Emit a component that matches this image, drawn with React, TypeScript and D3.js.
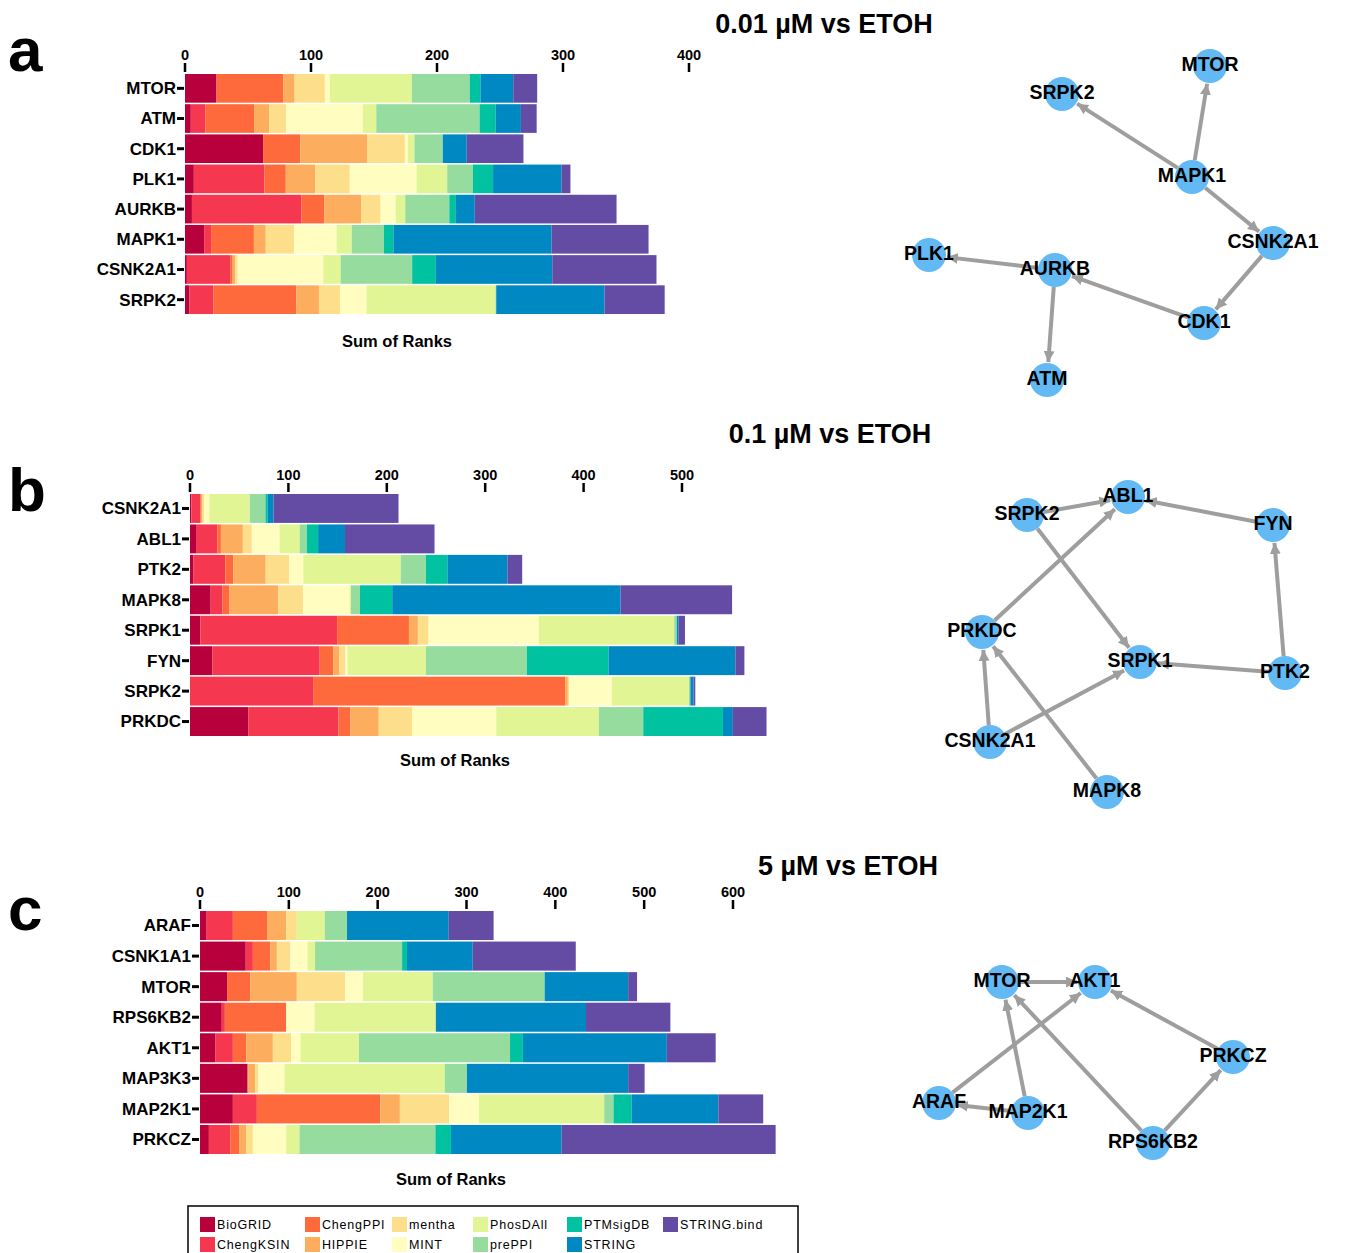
import React from "react";
import * as d3 from "d3";

// data sources, in stacking order
const sources = ["BioGRID", "ChengKSIN", "ChengPPI", "HIPPIE", "mentha", "MINT", "PhosDAll", "prePPI", "PTMsigDB", "STRING", "STRING.bind"];
const sourceColors = ["#B8003C", "#F5384F", "#FF6A3C", "#FDAD5E", "#FDDF8B", "#FFFDBF", "#E2F595", "#97DC9F", "#00C2A0", "#0088C2", "#644CA5"];

// panel a: 0.01 uM vs ETOH
const kinasesA = ["MTOR", "ATM", "CDK1", "PLK1", "AURKB", "MAPK1", "CSNK2A1", "SRPK2"];
const ranksA = [
  [25, 0, 53, 9, 24, 4, 65, 46, 8.5, 26, 19],
  [4.6, 11.6, 38.6, 12, 13.4, 61, 10.6, 82, 12.8, 20, 12.5],
  [62, 0, 29.5, 53, 30, 2.4, 5.2, 22.5, 0, 19, 45],
  [7, 56, 17, 23.4, 27.4, 53, 24.3, 20.4, 16, 54.4, 7],
  [5.5, 87, 18.2, 29, 15.5, 12, 7.6, 35, 5.2, 15, 112.5],
  [15.2, 5.5, 34, 9.4, 22.5, 33.7, 12, 25.5, 7.6, 125.5, 77],
  [1.5, 34.3, 2, 2, 2, 68, 13.7, 56.8, 18.8, 92.4, 82.7],
  [3.6, 19, 65.7, 18, 17, 20.7, 102.4, 0.6, 0, 86, 47.7],
];
const ticksA = [0, 100, 200, 300, 400];

// panel b: 0.1 uM vs ETOH
const kinasesB = ["CSNK2A1", "ABL1", "PTK2", "MAPK8", "SRPK1", "FYN", "SRPK2", "PRKDC"];
const ranksB = [
  [1.4, 9.1, 1.4, 0, 2.3, 5.5, 41, 16, 2.3, 5.9, 127],
  [6.8, 21, 3.6, 22.3, 9.1, 28.2, 20.5, 7.3, 11.4, 27.3, 91],
  [3.6, 32.3, 8.2, 32.8, 23.7, 14.6, 99, 25.5, 21.9, 61, 15],
  [21, 11.8, 7.3, 49.7, 25, 47.4, 1.4, 9.1, 32.8, 232, 113.4],
  [10.5, 139, 73, 9.1, 10.9, 112, 137.6, 2.7, 0, 1.8, 6.4],
  [22.8, 109, 13.7, 6.4, 5.9, 2.3, 79.7, 102.5, 83, 129, 9.1],
  [0, 125.7, 255.6, 2.7, 1.4, 43.3, 78.4, 1.4, 0, 3.2, 1.8],
  [59.2, 91.6, 12.3, 28.7, 34.2, 85.2, 104.3, 45.1, 81.1, 10, 34.2],
];
const ticksB = [0, 100, 200, 300, 400, 500];

// panel c: 5 uM vs ETOH
const kinasesC = ["ARAF", "CSNK1A1", "MTOR", "RPS6KB2", "AKT1", "MAP3K3", "MAP2K1", "PRKCZ"];
const ranksC = [
  [7.5, 29.5, 38.5, 21.5, 12, 0, 31.5, 25, 0, 114.5, 50.5],
  [51.5, 8, 19.5, 7.5, 15, 19.5, 8.5, 98, 5.5, 74, 116],
  [30.5, 0, 26, 52.5, 54.5, 20, 78.5, 126, 0, 94, 10],
  [24.5, 3.5, 69, 0, 0, 32, 136.5, 0, 0, 169, 95],
  [17.5, 19.5, 15, 30, 20.5, 10.5, 66, 170, 14.5, 162, 55],
  [53.5, 0, 1, 7.5, 3.5, 29.5, 180.5, 25, 0, 181.5, 18.5],
  [37, 27, 139, 22, 55.5, 33.5, 141, 10.5, 20.5, 97.5, 50.5],
  [10, 24, 10.5, 7.5, 7.5, 37.5, 15, 153, 17.5, 124.5, 241],
];
const ticksC = [0, 100, 200, 300, 400, 500, 600];

// networks: node layout (local units) and directed edges
const netNodesA = ["MTOR", "SRPK2", "MAPK1", "CSNK2A1", "PLK1", "AURKB", "CDK1", "ATM"];
const netPosA = [[310, 26], [162, 54], [292, 137], [373, 203], [29, 215], [155, 230], [304, 283], [147, 340]];
const netEdgesA = [["MAPK1", "SRPK2"], ["MAPK1", "MTOR"], ["MAPK1", "CSNK2A1"], ["CSNK2A1", "CDK1"], ["CDK1", "AURKB"], ["AURKB", "PLK1"], ["AURKB", "ATM"]];

const netNodesB = ["ABL1", "SRPK2", "FYN", "PRKDC", "SRPK1", "PTK2", "CSNK2A1", "MAPK8"];
const netPosB = [[228, 37], [127, 55], [373, 65], [82, 172], [240, 202], [385, 213], [90, 282], [207, 332]];
const netEdgesB = [["SRPK2", "ABL1"], ["FYN", "ABL1"], ["PRKDC", "ABL1"], ["SRPK2", "SRPK1"], ["PTK2", "SRPK1"], ["PTK2", "FYN"], ["CSNK2A1", "PRKDC"], ["CSNK2A1", "SRPK1"], ["MAPK8", "PRKDC"]];

const netNodesC = ["MTOR", "AKT1", "PRKCZ", "ARAF", "MAP2K1", "RPS6KB2"];
const netPosC = [[102, 42], [195, 42], [333, 117], [39, 163], [128, 173], [253, 203]];
const netEdgesC = [["MTOR", "AKT1"], ["PRKCZ", "AKT1"], ["ARAF", "AKT1"], ["MAP2K1", "MTOR"], ["RPS6KB2", "MTOR"], ["RPS6KB2", "PRKCZ"], ["MAP2K1", "ARAF"]];

const FONT = "'Liberation Sans', Arial, Helvetica, sans-serif";

function BarPanel({ kinases, ranks, ticks, xRange, yRange, letter, letterY, title, titleX, titleY, labelX, labelY }) {
  const table = kinases.map((k, i) => {
    const row: any = { kinase: k };
    sources.forEach((s, j) => (row[s] = ranks[i][j]));
    return row;
  });
  const series = d3.stack().keys(sources)(table);
  const x = d3.scaleLinear().domain([0, ticks[ticks.length - 1]]).range(xRange);
  const y = d3.scaleBand().domain(kinases).range(yRange).paddingInner(0.05);
  const top = yRange[0];
  const color = d3.scaleOrdinal<string, string>().domain(sources).range(sourceColors);
  return (
    <g>
      <text x={8} y={letterY} fontFamily={FONT} fontWeight="bold" fontSize={62}>{letter}</text>
      <text x={titleX} y={titleY} fontFamily={FONT} fontWeight="bold" fontSize={27} textAnchor="middle">{title}</text>
      {series.map((s) => (
        <g key={s.key} fill={color(s.key)}>
          {s.map((d, i) => (
            <rect key={i} x={x(d[0])} y={y(kinases[i])} width={Math.max(0, x(d[1]) - x(d[0]))} height={y.bandwidth()} />
          ))}
        </g>
      ))}
      {ticks.map((t) => (
        <g key={t}>
          <line x1={x(t)} x2={x(t)} y1={top - 11} y2={top - 2} stroke="#000" strokeWidth={2.5} />
          <text x={x(t)} y={top - 14} fontFamily={FONT} fontWeight="bold" fontSize={14.5} textAnchor="middle">{t}</text>
        </g>
      ))}
      {kinases.map((k) => (
        <g key={k}>
          <line x1={xRange[0] - 8} x2={xRange[0] - 1} y1={(y(k) as number) + y.bandwidth() / 2} y2={(y(k) as number) + y.bandwidth() / 2} stroke="#000" strokeWidth={3} />
          <text x={xRange[0] - 9} y={(y(k) as number) + y.bandwidth() / 2} dy="0.35em" fontFamily={FONT} fontWeight="bold" fontSize={17} textAnchor="end">{k}</text>
        </g>
      ))}
      <text x={labelX} y={labelY} fontFamily={FONT} fontWeight="bold" fontSize={16.5} textAnchor="middle">Sum of Ranks</text>
    </g>
  );
}

function Network({ nodes, pos, edges, origin, id }) {
  const x = d3.scaleLinear().domain([0, 400]).range([origin[0], origin[0] + 400]);
  const y = d3.scaleLinear().domain([0, 400]).range([origin[1], origin[1] + 400]);
  const idx = new Map(nodes.map((n, i) => [n, i]));
  const r = 17;
  return (
    <g>
      <defs>
        <marker id={`arr-${id}`} viewBox="0 0 10 10" refX={10} refY={5} markerWidth={11} markerHeight={11} markerUnits="userSpaceOnUse" orient="auto">
          <path d="M0,0 L10,5 L0,10 z" fill="#9E9E9E" />
        </marker>
      </defs>
      {edges.map(([s, t], i) => {
        const a = pos[idx.get(s) as number];
        const b = pos[idx.get(t) as number];
        const x1 = x(a[0]), y1 = y(a[1]), x2 = x(b[0]), y2 = y(b[1]);
        const len = Math.hypot(x2 - x1, y2 - y1);
        const ux = (x2 - x1) / len, uy = (y2 - y1) / len;
        return (
          <line key={i} x1={x1 + ux * r} y1={y1 + uy * r} x2={x2 - ux * (r + 1)} y2={y2 - uy * (r + 1)}
            stroke="#9E9E9E" strokeWidth={4} markerEnd={`url(#arr-${id})`} />
        );
      })}
      {nodes.map((n, i) => (
        <circle key={n} cx={x(pos[i][0])} cy={y(pos[i][1])} r={r} fill="#62B9F4" />
      ))}
      {nodes.map((n, i) => (
        <text key={n} x={x(pos[i][0])} y={y(pos[i][1]) - 2} dy="0.35em" fontFamily={FONT} fontWeight="bold" fontSize={19.5} textAnchor="middle">{n}</text>
      ))}
    </g>
  );
}

function Legend() {
  const colX = [200, 305, 392, 473, 567, 663];
  const rowY = [1217, 1237];
  return (
    <g>
      <rect x={188} y={1206} width={610} height={60} fill="none" stroke="#000" strokeWidth={1.5} />
      {sources.map((s, i) => {
        const cx = colX[Math.floor(i / 2)];
        const cy = rowY[i % 2];
        return (
          <g key={s}>
            <rect x={cx} y={cy} width={15} height={15} fill={sourceColors[i]} />
            <text x={cx + 17} y={cy + 12} fontFamily={FONT} fontSize={12.5} letterSpacing={0.8}>{s}</text>
          </g>
        );
      })}
    </g>
  );
}

export default function App() {
  return (
    <svg width={1346} height={1253} style={{ position: "absolute", left: 0, top: 0, background: "#fff" }}>
      <rect width={1346} height={1253} fill="#fff" />
      <BarPanel kinases={kinasesA} ranks={ranksA} ticks={ticksA} xRange={[185, 689]} yRange={[74, 314]}
        letter="a" letterY={71} title="0.01 µM vs ETOH" titleX={824} titleY={33} labelX={397} labelY={347} />
      <BarPanel kinases={kinasesB} ranks={ranksB} ticks={ticksB} xRange={[190, 682]} yRange={[494, 736]}
        letter="b" letterY={511} title="0.1 µM vs ETOH" titleX={830} titleY={443} labelX={455} labelY={766} />
      <BarPanel kinases={kinasesC} ranks={ranksC} ticks={ticksC} xRange={[200, 733]} yRange={[911, 1154]}
        letter="c" letterY={930} title="5 µM vs ETOH" titleX={848} titleY={875} labelX={451} labelY={1185} />
      <Network id="a" nodes={netNodesA} pos={netPosA} edges={netEdgesA} origin={[900, 40]} />
      <Network id="b" nodes={netNodesB} pos={netPosB} edges={netEdgesB} origin={[900, 460]} />
      <Network id="c" nodes={netNodesC} pos={netPosC} edges={netEdgesC} origin={[900, 940]} />
      <Legend />
    </svg>
  );
}
